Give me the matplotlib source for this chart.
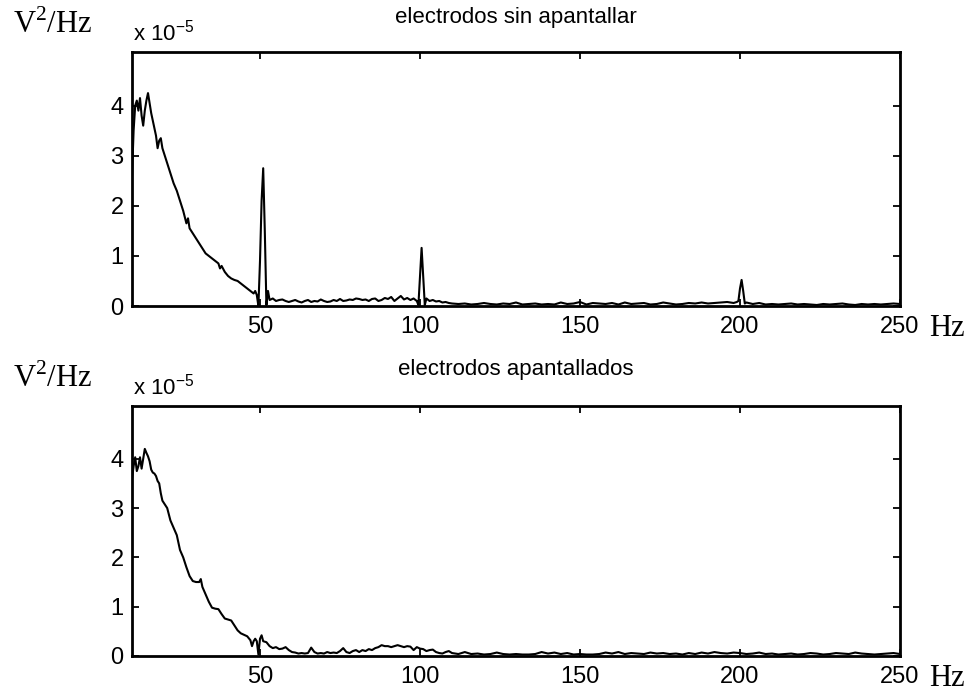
import matplotlib
matplotlib.use("Agg")
import matplotlib.pyplot as plt
import numpy as np

# ---------------- data (values in units of 1e-5 V^2/Hz) ----------------
f_top_low = [10, 10.5, 11, 11.5, 12, 12.5, 13, 13.5, 14, 14.5, 15, 15.5, 16, 16.5, 17, 17.5,
             18, 18.5, 19, 19.5, 20, 21, 22, 23, 24, 25, 26, 27, 27.5, 28, 29, 30, 31, 32,
             33, 34, 35, 36, 37, 37.5, 38, 39, 40, 41, 42, 43, 44, 45, 46, 47, 48, 48.5, 49,
             49.5, 50, 50.5, 51, 51.5, 52, 52.5, 53]
p_top_low = [2.6, 3.5, 4.0, 4.1, 3.9, 4.15, 3.8, 3.6, 3.9, 4.1, 4.25, 4.05, 3.85, 3.7, 3.55, 3.4,
             3.15, 3.3, 3.35, 3.15, 3.05, 2.85, 2.65, 2.45, 2.3, 2.1, 1.9, 1.65, 1.75, 1.55, 1.45,
             1.35, 1.25, 1.15, 1.05, 1.0, 0.95, 0.9, 0.85, 0.75, 0.8, 0.68, 0.6, 0.55, 0.52, 0.5,
             0.45, 0.4, 0.35, 0.3, 0.25, 0.3, 0.22, 0.0, 0.9, 2.1, 2.75, 1.5, 0.02, 0.3, 0.12]
f_top_mid = list(range(54, 100)) + [99.5, 100, 100.5, 101, 101.5] + list(range(102, 111))
p_top_mid = [0.15, 0.1, 0.12, 0.13, 0.1, 0.08, 0.1, 0.12, 0.09, 0.07, 0.1, 0.12, 0.08, 0.1,
             0.09, 0.13, 0.1, 0.08, 0.09, 0.12, 0.1, 0.14, 0.1, 0.11, 0.13, 0.12, 0.15, 0.14,
             0.12, 0.13, 0.1, 0.14, 0.15, 0.1, 0.12, 0.16, 0.14, 0.18, 0.1, 0.15, 0.2, 0.13,
             0.16, 0.12, 0.15, 0.1,
             0.02, 0.6, 1.16, 0.6, 0.02,
             0.15, 0.1, 0.12, 0.09, 0.1, 0.07, 0.08, 0.06, 0.05]
f_top_high = list(range(112, 200, 2)) + [199, 199.5, 200, 200.5, 201, 201.5] + list(range(202, 252, 2))
p_top_high = [0.04, 0.05, 0.03, 0.04, 0.06, 0.04, 0.03, 0.05, 0.04, 0.07, 0.03, 0.04, 0.05,
              0.03, 0.04, 0.03, 0.07, 0.04, 0.05, 0.08, 0.03, 0.06, 0.05, 0.04, 0.06, 0.03,
              0.07, 0.04, 0.05, 0.06, 0.03, 0.04, 0.07, 0.05, 0.03, 0.04, 0.06, 0.05, 0.07,
              0.05, 0.06, 0.07, 0.08, 0.06,
              0.08, 0.1, 0.35, 0.52, 0.3, 0.05,
              0.07, 0.04, 0.06, 0.03, 0.04, 0.03, 0.04, 0.05, 0.03, 0.04, 0.03, 0.02, 0.04,
              0.03, 0.04, 0.05, 0.03, 0.02, 0.04, 0.03, 0.04, 0.03, 0.04, 0.05, 0.04]

f_bot_low = [10, 10.5, 11, 11.5, 12, 12.5, 13, 13.5, 14, 14.5, 15, 15.5, 16, 16.5, 17, 17.5,
             18, 18.5, 19, 19.5, 20, 21, 22, 23, 24, 25, 26, 27, 28, 29, 30, 31, 31.5, 32, 33,
             34, 35, 36, 37, 38, 39, 40, 41, 42, 43, 44, 45, 46, 47, 47.5, 48, 48.5, 49, 49.5,
             50, 50.5, 51, 52, 53]
p_bot_low = [3.6, 3.85, 4.03, 3.75, 3.85, 4.03, 3.8, 4.0, 4.2, 4.12, 4.05, 3.95, 3.78, 3.72,
             3.7, 3.65, 3.55, 3.5, 3.3, 3.15, 3.1, 3.0, 2.75, 2.6, 2.45, 2.15, 2.0, 1.8, 1.62,
             1.52, 1.5, 1.5, 1.56, 1.4, 1.25, 1.1, 0.98, 0.96, 0.95, 0.85, 0.76, 0.74, 0.72,
             0.62, 0.52, 0.46, 0.43, 0.4, 0.32, 0.2, 0.3, 0.35, 0.3, 0.03, 0.35, 0.42, 0.3,
             0.28, 0.2]
f_bot_mid = list(range(54, 111))
p_bot_mid = [0.16, 0.18, 0.14, 0.15, 0.18, 0.12, 0.08, 0.07, 0.05, 0.06, 0.05, 0.06, 0.17,
             0.08, 0.05, 0.06, 0.05, 0.08, 0.06, 0.07, 0.06, 0.1, 0.16, 0.08, 0.06, 0.1, 0.12,
             0.08, 0.12, 0.1, 0.14, 0.12, 0.16, 0.18, 0.22, 0.2, 0.2, 0.18, 0.2, 0.22, 0.2,
             0.18, 0.2, 0.19, 0.12, 0.18, 0.15, 0.14, 0.1, 0.12, 0.13, 0.08, 0.06, 0.05, 0.08,
             0.1, 0.06]
f_bot_high = list(range(112, 252, 2))
p_bot_high = [0.04, 0.08, 0.04, 0.05, 0.03, 0.04, 0.07, 0.04, 0.03, 0.04, 0.03, 0.03, 0.04,
              0.08, 0.05, 0.07, 0.04, 0.06, 0.03, 0.04, 0.03, 0.03, 0.04, 0.07, 0.05, 0.08,
              0.04, 0.06, 0.05, 0.04, 0.07, 0.05, 0.06, 0.04, 0.05, 0.03, 0.06, 0.04, 0.07,
              0.05, 0.08, 0.06, 0.05, 0.07, 0.06, 0.04, 0.05, 0.07, 0.04, 0.05, 0.03, 0.04,
              0.05, 0.03, 0.04, 0.06, 0.05, 0.03, 0.04, 0.06, 0.05, 0.04, 0.07, 0.05, 0.04,
              0.03, 0.04, 0.05, 0.06, 0.04]

titles = ["electrodos sin apantallar", "electrodos apantallados"]
x_ticks = [50, 100, 150, 200, 250]
y_ticks = [0, 1, 2, 3, 4]

series = [
    (f_top_low + f_top_mid + f_top_high, p_top_low + p_top_mid + p_top_high),
    (f_bot_low + f_bot_mid + f_bot_high, p_bot_low + p_bot_mid + p_bot_high),
]

# ---------------- figure ----------------
W, H = 970, 695
fig = plt.figure(figsize=(W / 100, H / 100), dpi=100)
fig.patch.set_facecolor("white")

sans = ["Liberation Sans", "DejaVu Sans"]
serif = ["Liberation Serif", "DejaVu Serif"]

axes_px = [(132, 52, 900, 306), (132, 406, 900, 656)]  # left, top, right, bottom
hz_y = [328, 678]
title_y = [18, 370]

for i, ((x0, y0, x1, y1), (f, p)) in enumerate(zip(axes_px, series)):
    ax = fig.add_axes([x0 / W, 1 - y1 / H, (x1 - x0) / W, (y1 - y0) / H])
    ax.plot(f, p, color="black", linewidth=1.5)
    ax.set_xlim(10, 250)
    ax.set_ylim(0, 5.07)
    ax.set_xticks(x_ticks)
    ax.set_yticks(y_ticks)
    ax.set_xticklabels([str(t) for t in x_ticks], family=sans, fontsize=17)
    ax.set_yticklabels([str(t) for t in y_ticks], family=sans, fontsize=17)
    ax.tick_params(direction="in", length=5, width=1.3, top=True, right=True)
    ax.tick_params(axis="x", pad=7)
    ax.tick_params(axis="y", pad=6)
    for s in ax.spines.values():
        s.set_linewidth(2.0)
    fig.text((x0 + x1) / 2 / W, 1 - title_y[i] / H, titles[i], family=sans,
             fontsize=16, ha="center", va="center")
    # exponent label
    fig.text(133 / W, 1 - (y0 - 12) / H, r"x 10$^{\mathregular{-5}}$", family=sans,
             fontsize=16, ha="left", va="baseline")
    # units
    fig.text(13 / W, 1 - (y0 - 19) / H, r"V$^{\mathregular{2}}$/Hz", family=serif,
             fontsize=22, ha="left", va="baseline")
    fig.text(929 / W, 1 - hz_y[i] / H, "Hz", family=serif, fontsize=22,
             ha="left", va="center")

fig.savefig("out.png", dpi=100, facecolor="white")
